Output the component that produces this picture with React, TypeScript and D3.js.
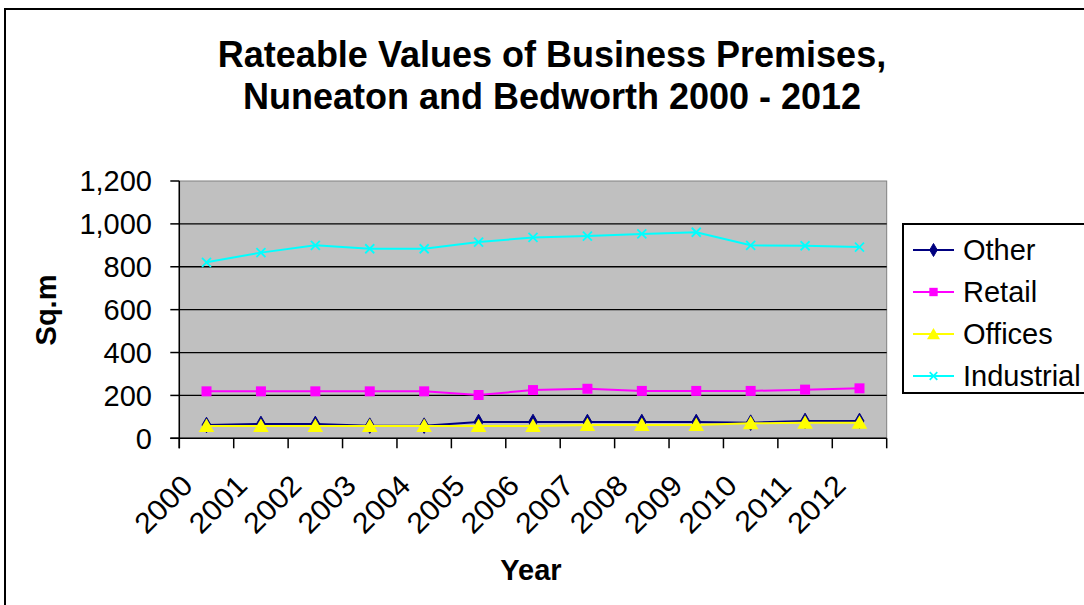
import React from 'react';
import * as d3 from 'd3';

// Rateable values (sq.m) by year and premises type
const years = ['2000', '2001', '2002', '2003', '2004', '2005', '2006', '2007', '2008', '2009', '2010', '2011', '2012'];
const other = [62, 67, 67, 59, 59, 76, 76, 76, 76, 76, 73, 81, 81];
const retail = [219, 219, 219, 219, 219, 202, 225, 231, 221, 221, 221, 227, 233];
const offices = [57, 57, 57, 57, 57, 57, 57, 62, 62, 62, 70, 73, 73];
const industrial = [821, 866, 900, 884, 884, 915, 937, 943, 953, 961, 900, 898, 892];
const yTicks = [0, 200, 400, 600, 800, 1000, 1200];

const FONT = "Arial, 'Liberation Sans', sans-serif";

type SeriesDef = { name: string; values: number[]; color: string; marker: 'diamond' | 'square' | 'triangle' | 'cross' };

const series: SeriesDef[] = [
  { name: 'Other', values: other, color: '#000080', marker: 'diamond' },
  { name: 'Retail', values: retail, color: '#FF00FF', marker: 'square' },
  { name: 'Offices', values: offices, color: '#FFFF00', marker: 'triangle' },
  { name: 'Industrial', values: industrial, color: '#00FFFF', marker: 'cross' },
];

function Marker({ kind, color, cx, cy, scale = 1 }: { kind: SeriesDef['marker']; color: string; cx: number; cy: number; scale?: number }) {
  if (kind === 'cross') {
    const r = 4.5 * Math.sqrt(scale);
    return (
      <g transform={`translate(${cx},${cy})`} stroke={color} strokeWidth={1.8}>
        <line x1={-r} y1={-r} x2={r} y2={r} />
        <line x1={-r} y1={r} x2={r} y2={-r} />
      </g>
    );
  }
  const type = kind === 'diamond' ? d3.symbolDiamond : kind === 'square' ? d3.symbolSquare : d3.symbolTriangle;
  const size = (kind === 'diamond' ? 70 : kind === 'square' ? 100 : 105) * scale;
  const path = d3.symbol().type(type).size(size)() as string;
  return (
    <path
      d={path}
      transform={`translate(${cx},${cy + (kind === 'triangle' ? 1.5 : 0)})`}
      fill={color}
      stroke={kind === 'diamond' ? color : 'none'}
      strokeWidth={1}
    />
  );
}

export default function App() {
  const W = 1084;
  const H = 605;
  const plot = { left: 179.3, right: 886.7, top: 181, bottom: 438.3 };

  const x = d3.scaleBand<string>().domain(years).range([plot.left, plot.right]).paddingInner(0).paddingOuter(0);
  const y = d3.scaleLinear().domain([0, 1200]).range([plot.bottom, plot.top]);
  const cx = (yr: string) => (x(yr) as number) + x.bandwidth() / 2;

  const line = d3
    .line<number>()
    .x((_, i) => cx(years[i]))
    .y((v) => y(v));

  const boundaries = d3.range(years.length + 1).map((i) => plot.left + i * x.bandwidth());

  const legendX = 903;
  const legendY = 224;
  const legendRowY = [250, 292, 334, 376];

  return (
    <svg
      width={W}
      height={H}
      style={{ position: 'fixed', left: 0, top: 0, background: '#fff', display: 'block' }}
      fontFamily={FONT}
    >
      {/* outer chart frame */}
      <rect x={5} y={9} width={W + 20} height={H + 20} fill="#fff" stroke="#000" strokeWidth={2} />

      {/* title */}
      <text x={552} y={67} textAnchor="middle" fontSize={36} fontWeight="bold" fill="#000">
        Rateable Values of Business Premises,
      </text>
      <text x={552} y={109} textAnchor="middle" fontSize={36} fontWeight="bold" fill="#000">
        Nuneaton and Bedworth 2000 - 2012
      </text>

      {/* plot area */}
      <rect
        x={plot.left}
        y={plot.top}
        width={plot.right - plot.left}
        height={plot.bottom - plot.top}
        fill="#C0C0C0"
        stroke="#808080"
        strokeWidth={1}
      />

      {/* gridlines */}
      {yTicks
        .filter((t) => t > 0 && t < 1200)
        .map((t) => (
          <line key={t} x1={plot.left} x2={plot.right} y1={y(t)} y2={y(t)} stroke="#000" strokeWidth={1.3} />
        ))}

      {/* y axis */}
      <line x1={plot.left} x2={plot.left} y1={plot.top} y2={plot.bottom + 10} stroke="#000" strokeWidth={1.5} />
      {yTicks.map((t) => (
        <g key={t}>
          <line x1={plot.left - 9} x2={plot.left} y1={y(t)} y2={y(t)} stroke="#000" strokeWidth={1.5} />
          <text x={152} y={y(t)} dy="0.36em" textAnchor="end" fontSize={29} fill="#000">
            {d3.format(',')(t)}
          </text>
        </g>
      ))}

      {/* x axis */}
      <line x1={plot.left - 9} x2={plot.right} y1={plot.bottom} y2={plot.bottom} stroke="#000" strokeWidth={1.5} />
      {boundaries.map((bx, i) => (
        <line key={i} x1={bx} x2={bx} y1={plot.bottom} y2={plot.bottom + 10} stroke="#000" strokeWidth={1.5} />
      ))}
      {years.map((yr) => (
        <text
          key={yr}
          transform={`translate(${cx(yr) - 12},${plot.bottom + 49}) rotate(-45) scale(1.05,1)`}
          textAnchor="end"
          fontSize={29}
          fill="#000"
        >
          {yr}
        </text>
      ))}

      {/* axis titles */}
      <text x={531} y={580} textAnchor="middle" fontSize={29} fontWeight="bold" fill="#000">
        Year
      </text>
      <text transform={`translate(56,310) rotate(-90)`} textAnchor="middle" fontSize={29} fontWeight="bold" fill="#000">
        Sq.m
      </text>

      {/* series lines and markers */}
      {series.map((s) => (
        <g key={s.name}>
          <path d={line(s.values) as string} fill="none" stroke={s.color} strokeWidth={2} />
          {s.values.map((v, i) => (
            <Marker key={i} kind={s.marker} color={s.color} cx={cx(years[i])} cy={y(v)} />
          ))}
        </g>
      ))}

      {/* legend */}
      <rect x={legendX} y={legendY} width={W} height={169} fill="#fff" stroke="#000" strokeWidth={2} />
      {series.map((s, i) => (
        <g key={s.name}>
          <line x1={913} x2={954} y1={legendRowY[i]} y2={legendRowY[i]} stroke={s.color} strokeWidth={2} />
          <Marker kind={s.marker} color={s.color} cx={933.5} cy={legendRowY[i]} scale={0.7} />
          <text x={963} y={legendRowY[i]} dy="0.36em" fontSize={29} fill="#000">
            {s.name}
          </text>
        </g>
      ))}
    </svg>
  );
}
